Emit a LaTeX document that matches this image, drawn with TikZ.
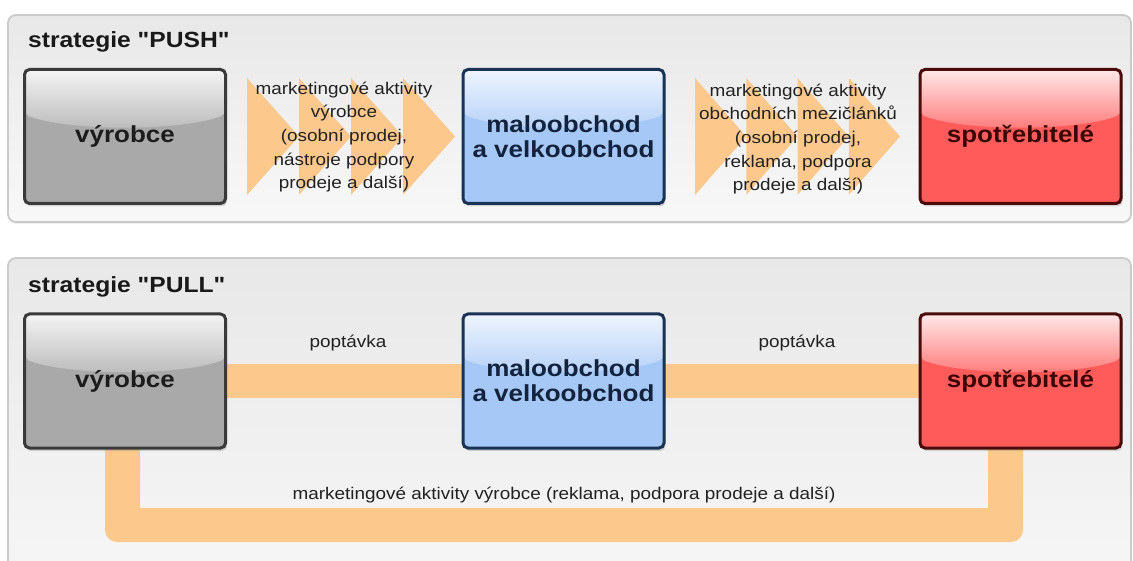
\documentclass[tikz,border=0pt]{standalone}
\usepackage{fontspec}
\setmainfont{Liberation Sans}[FakeStretch=1.12, Ligatures=TeXOff]
\usetikzlibrary{calc,shadows}
\definecolor{bandc}{HTML}{FDC88C}
\definecolor{paneltop}{HTML}{E8E8E8}
\definecolor{panelbot}{HTML}{F8F8F8}
\definecolor{panelline}{HTML}{CACACA}
\definecolor{greybase}{HTML}{A9A9A9}
\definecolor{greytop}{HTML}{F4F4F4}
\definecolor{greymid}{HTML}{B9B9B9}
\definecolor{greyline}{HTML}{3A3A3A}
\definecolor{greytext}{HTML}{1C1C1C}
\definecolor{bluebase}{HTML}{A6C8F6}
\definecolor{bluetop}{HTML}{EEF4FD}
\definecolor{bluemid}{HTML}{B4D0F8}
\definecolor{blueline}{HTML}{1A3354}
\definecolor{bluetext}{HTML}{13233D}
\definecolor{redbase}{HTML}{FF5B5B}
\definecolor{redtop}{HTML}{FFE8E8}
\definecolor{redmid}{HTML}{FF7676}
\definecolor{redline}{HTML}{4A0B0B}
\definecolor{redtext}{HTML}{3A0707}
\definecolor{smalltext}{HTML}{222222}
\pgfdeclarelayer{bg}
\pgfsetlayers{bg,main}
\begin{document}
\begin{tikzpicture}[x=1pt,y=1pt,
  panel/.style={draw=panelline, line width=1.8pt, rounded corners=8pt,
    top color=paneltop, bottom color=panelbot,
    drop shadow={shadow xshift=0pt, shadow yshift=-2pt, opacity=0.12}},
  box/.style={draw, line width=3pt, rounded corners=5pt,
    minimum width=201pt, minimum height=134pt, align=center,
    font=\fontsize{23.2}{25}\selectfont\bfseries,
    drop shadow={shadow xshift=1.5pt, shadow yshift=-3pt, opacity=0.28}},
  gloss/.style 2 args={path picture={
    \coordinate (pnw) at (path picture bounding box.north west);
    \coordinate (pse) at (path picture bounding box.south east);
    \fill[top color=#1, bottom color=#2]
      (pnw) -- (pnw -| pse) -- ($(pnw -| pse)+(0,-45)$)
      .. controls +(-45,-17) and +(45,-17) .. ($(pnw)+(0,-45)$) -- cycle;}},
  greybox/.style={box, fill=greybase, draw=greyline, text=greytext, gloss={greytop}{greymid}},
  bluebox/.style={box, fill=bluebase, draw=blueline, text=bluetext, gloss={bluetop}{bluemid}},
  redbox/.style={box, fill=redbase, draw=redline, text=redtext, gloss={redtop}{redmid}},
  heading/.style={anchor=base west, inner sep=0pt, font=\fontsize{22}{26}\selectfont\bfseries, text=black!90},
  small/.style={align=center, inner sep=0pt, text=smalltext, font=\fontsize{16.9}{23.7}\selectfont},
  chev/.style={fill=bandc},
  band/.style={fill=bandc}
]
\useasboundingbox (0,0) rectangle (1133,-561);

% titles
\node[heading] (h1) at (28,-48) {strategie "PUSH"};
\node[heading] (h2) at (28,-293) {strategie "PULL"};

% PUSH boxes
\node[greybox] (v1) at (125,-136.5) {výrobce};
\node[bluebox] (m1) at (563.5,-136.5) {maloobchod\\a velkoobchod};
\node[redbox]  (s1) at (1020.5,-136.5) {spotřebitelé};

% PULL boxes
\node[greybox] (v2) at (125,-381) {výrobce};
\node[bluebox] (m2) at (563.5,-381) {maloobchod\\a velkoobchod};
\node[redbox]  (s2) at (1020.5,-381) {spotřebitelé};

% texts
\node[small] (t1) at (344,-137) {marketingové aktivity\\výrobce\\(osobní prodej,\\nástroje podpory\\prodeje a další)};
\node[small] (t2) at (798,-139) {marketingové aktivity\\obchodních mezičlánků\\(osobní prodej,\\reklama, podpora\\prodeje a další)};
\node[small] (p1) at (348,-343) {poptávka};
\node[small] (p2) at (797,-343) {poptávka};
\node[small] (t3) at (564,-495) {marketingové aktivity výrobce (reklama, podpora prodeje a další)};

\begin{pgfonlayer}{bg}
  % panels
  \path[panel] (8,-15) rectangle (1131,-222);
  \path[panel] (8,-258) rectangle (1131,-620);
  % PUSH chevrons
  \foreach \i in {0,1,2,3} {
    \fill[chev] ($(v1.east)+(20+52*\i,58.5)$) -- ++(52,-58.5) -- ++(-52,-58.5) -- cycle;
    \fill[chev] ($(m1.east)+(29.5+51.25*\i,58.5)$) -- ++(51.25,-58.5) -- ++(-51.25,-58.5) -- cycle;
  }
  % PULL bands
  \fill[band] ($(v2.east)+(-5,16.5)$) rectangle ($(m2.west)+(5,-16.5)$);
  \fill[band] ($(m2.east)+(-5,16.5)$) rectangle ($(s2.west)+(5,-16.5)$);
  \coordinate (ua) at ($(v2.south)+(-20,10)$);
  \coordinate (ub) at ($(v2.south)+(15,10)$);
  \coordinate (uc) at ($(s2.south)+(2.5,10)$);
  \coordinate (ud) at ($(s2.south)+(-32.5,10)$);
  \fill[band] (ua) -- (ua |- 0,-530) arc[start angle=180,end angle=270,radius=12]
    -- ($(uc |- 0,-542)+(-12,0)$) arc[start angle=270,end angle=360,radius=12]
    -- (uc) -- (ud) -- (ud |- 0,-508) -- (ub |- 0,-508) -- (ub) -- cycle;
\end{pgfonlayer}
\end{tikzpicture}
\end{document}
